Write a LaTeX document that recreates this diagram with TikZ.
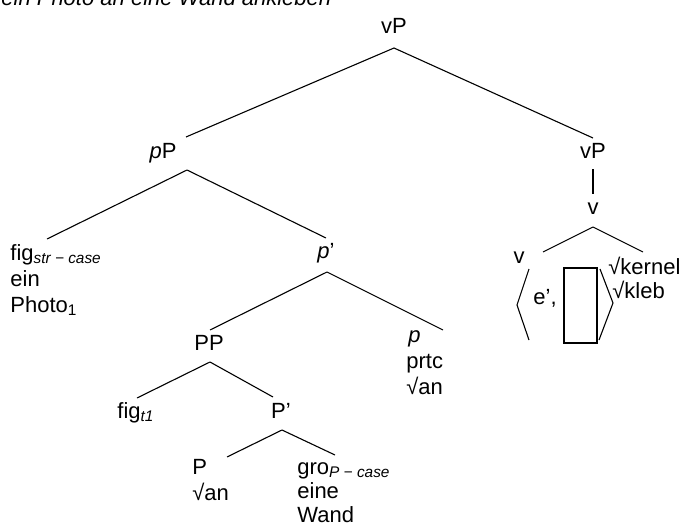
\documentclass[tikz,border=0pt]{standalone}
\usepackage{fontspec}
\setmainfont{Liberation Sans}
\usetikzlibrary{calc}

% stacked lines under one tree node, baseline on the first line
\newcommand{\rows}[1]{\begin{tabular}[t]{@{}l@{}}#1\end{tabular}}

\begin{document}
\begin{tikzpicture}[
    x=0.5pt, y=-0.5pt,
    tnode/.style={
        inner sep=0pt,
        anchor=base,
        font=\fontsize{11}{13}\selectfont
    },
    tleft/.style={
        tnode,
        anchor=base west
    },
    branch/.style={
        line width=0.55pt
    }
]
\useasboundingbox (0,0) rectangle (692,530);
\clip (0,0) rectangle (692,530);

% heading, mostly cut off at the top
\node[tleft] (title) at (1,5) {\itshape ein Photo an eine Wand ankleben};

% upper part
\node[tnode] (vPtop) at (394,33) {vP};
\node[tnode] (pP) at (163,158) {\textit{p}P};
\node[tnode] (vPlow) at (593,158) {vP};
\node[tnode] (vmid) at (593,214) {v};

% figure under pP
\node[tleft] (figstr) at (10,260) {\rows{fig\textsubscript{\itshape str − case}\\ein\\Photo\textsubscript{1}}};
\node[tnode] (pbar) at (326,258) {\textit{p}’};

% PP and particle
\node[tnode] (PP) at (209,350) {PP};
\node[tleft] (plittle) at (406,342) {\rows{\hspace{1pt}\textit{p}\\prtc\\√an}};
\node[tleft] (figt) at (117,418) {fig\textsubscript{\itshape t1}};
\node[tnode] (Pbar) at (281,418) {P’};
\node[tleft] (Phead) at (192,474) {\rows{P\\√an}};
\node[tleft] (gro) at (297,474) {\rows{gro\textsubscript{\itshape P − case}\\[-1pt]eine\\[-1pt]Wand}};

% v with its pair
\node[tnode] (vleft) at (519,263) {v};
\node[tleft] (eprime) at (533,304) {e’,};
\node[draw, branch, inner sep=0pt, minimum width=16.5pt, minimum height=37.5pt] (slot) at (580.5,305.5) {};
\node[tleft] (kernel) at (608,274) {√kernel};
\node[tleft] (kleb) at (612,298) {√kleb};

% brackets round the pair
\draw[branch] (529,269) -- (517,305) -- (529,340);
\draw[branch] (600,269) -- (613,303) -- (599,340);

% branches
\draw[branch] ($(vPtop.base)+(0,15)$) -- ($(pP.base)+(23,-21)$);
\draw[branch] ($(vPtop.base)+(0,15)$) -- ($(vPlow.base)+(0,-20)$);
\draw[branch] ($(pP.base)+(24,12)$) -- ($(figstr.base west)+(37,-21)$);
\draw[branch] ($(pP.base)+(24,12)$) -- ($(pbar.base)+(0,-20)$);
\draw[branch] ($(vPlow.base)+(0,11)$) -- ($(vmid.base)+(0,-20)$);
\draw[branch] ($(vmid.base)+(0,13)$) -- ($(vleft.base)+(24,-11)$);
\draw[branch] ($(vmid.base)+(0,13)$) -- ($(kernel.base west)+(35,-22)$);
\draw[branch] ($(pbar.base)+(1,14)$) -- ($(PP.base)+(1,-20)$);
\draw[branch] ($(pbar.base)+(1,14)$) -- ($(plittle.base west)+(37,-12)$);
\draw[branch] ($(PP.base)+(1,12)$) -- ($(figt.base west)+(20,-20)$);
\draw[branch] ($(PP.base)+(1,12)$) -- ($(Pbar.base)+(-8,-21)$);
\draw[branch] ($(Pbar.base)+(1,12)$) -- ($(Phead.base west)+(35,-17)$);
\draw[branch] ($(Pbar.base)+(1,12)$) -- ($(gro.base west)+(38,-19)$);

\end{tikzpicture}
\end{document}
